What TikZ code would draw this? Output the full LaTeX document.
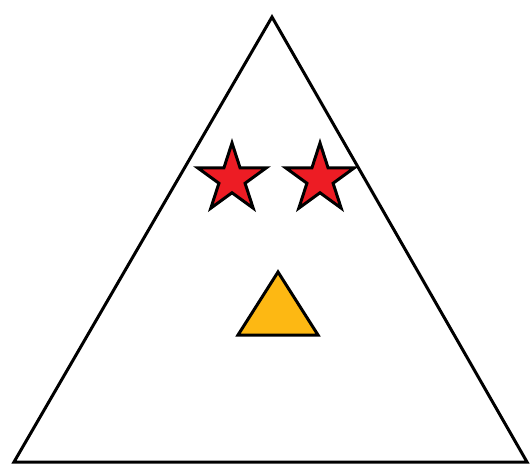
\documentclass[tikz,border=0pt]{standalone}
\usetikzlibrary{shapes.geometric}

\definecolor{starred}{RGB}{237,28,36}
\definecolor{signorange}{RGB}{253,184,19}

\tikzset{
  outline/.style={draw=black, line width=3pt},
  redstar/.style={outline, star, star points=5, star point ratio=2.618,
    minimum size=72pt, inner sep=0pt, fill=starred}
}

\begin{document}
\begin{tikzpicture}[x=1pt, y=-1pt]
  \useasboundingbox (0,0) rectangle (532,465);

  % grosses Dreieck
  \draw[outline] (272,17) -- (14,462) -- (527,462) -- cycle;

  % Sterne
  \node[redstar] (leftstar) at (232,179) {};
  \node[redstar] (rightstar) at (320,179) {};

  % kleines Dreieck
  \draw[outline, fill=signorange] (278,272) -- (238,335) -- (318,335) -- cycle;
\end{tikzpicture}
\end{document}
